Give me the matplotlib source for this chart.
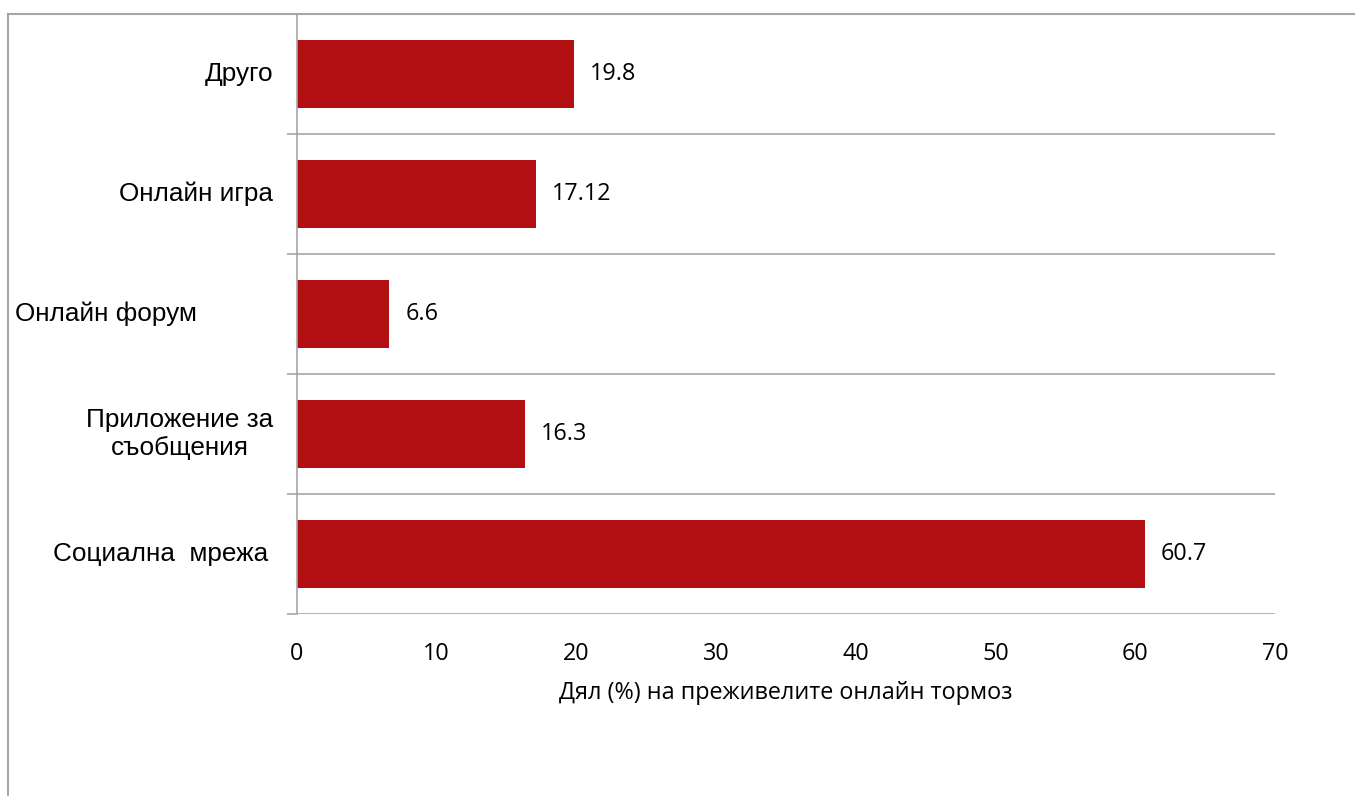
import matplotlib
matplotlib.use('Agg')
import matplotlib.pyplot as plt
from matplotlib.lines import Line2D

# данни
categories = ['Социална  мрежа', 'Приложение за\nсъобщения', 'Онлайн форум', 'Онлайн игра', 'Друго']
values = [60.7, 16.3, 6.6, 17.12, 19.8]
value_labels = ['60.7', '16.3', '6.6', '17.12', '19.8']
x_ticks = [0, 10, 20, 30, 40, 50, 60, 70]
x_label = 'Дял (%) на преживелите онлайн тормоз'

BAR_COLOR = '#B10F12'
GRID_COLOR = '#A6A6A6'
CAL = ['Open Sans', 'DejaVu Sans']
ARIAL = ['Liberation Sans', 'DejaVu Sans']

W, H = 1355, 796
fig = plt.figure(figsize=(W / 100, H / 100), dpi=100)
ax = fig.add_axes([297 / W, 1 - 614 / H, (1275 - 297) / W, 600 / H])

ypos = list(range(len(categories)))
ax.barh(ypos, values, height=0.56, color=BAR_COLOR, zorder=2)

ax.set_xlim(0, 70)
ax.set_ylim(-0.5, len(categories) - 0.5)

# разделителни линии между категориите
ax.set_yticks([i - 0.5 for i in range(len(categories) + 1)])
ax.set_yticklabels([])
ax.tick_params(axis='y', length=7, width=1.2, color=GRID_COLOR, direction='out')
ax.grid(axis='y', color=GRID_COLOR, linewidth=1.2, zorder=1)

ax.set_xticks(x_ticks)
ax.set_xticklabels([str(t) for t in x_ticks], family=CAL, fontsize=16.8)
ax.tick_params(axis='x', length=0, pad=20)
ax.set_xlabel(x_label, family=CAL, fontsize=16.8, labelpad=11)

for s in ['top', 'right']:
    ax.spines[s].set_visible(False)
ax.spines['left'].set_color(GRID_COLOR)
ax.spines['left'].set_linewidth(1.2)
ax.spines['bottom'].set_visible(False)

# стойности до стълбовете
for y, v, lab in zip(ypos, values, value_labels):
    ax.annotate(lab, (v, y), xytext=(16, 0), textcoords='offset pixels',
                va='center', ha='left', family=CAL, fontsize=16.8)

# имена на категориите (ръчно подравнени като в оригинала)
ytr = ax.get_yaxis_transform()
label_x = [(268 - 297) / 978, (273 - 297) / 978, (15 - 297) / 978, (273 - 297) / 978, (273 - 297) / 978]
label_ha = ['right', 'right', 'left', 'right', 'right']
for y, lab, lx, ha in zip(ypos, categories, label_x, label_ha):
    ax.text(lx, y, lab, transform=ytr, ha=ha, va='center', multialignment='center',
            family=ARIAL, fontsize=18.8, clip_on=False, linespacing=1.25)

# рамка на фигурата
fig.add_artist(Line2D([8 / W, 1], [1 - 14 / H, 1 - 14 / H], color=GRID_COLOR, lw=1.5))
fig.add_artist(Line2D([8 / W, 8 / W], [1 - 14 / H, 0], color=GRID_COLOR, lw=1.5))

fig.savefig('out.png', dpi=100)
